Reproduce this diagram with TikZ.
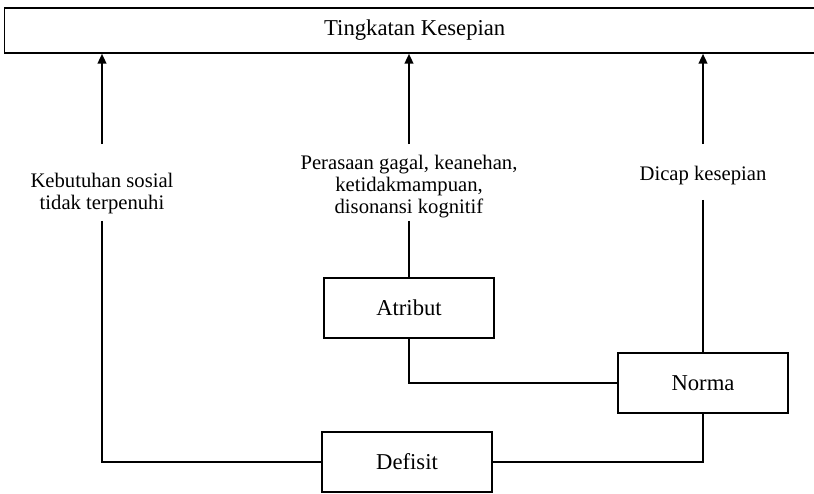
\documentclass[tikz,border=0pt]{standalone}
\usepackage{fontspec}
\setmainfont{Liberation Serif}
\usetikzlibrary{arrows.meta}

\tikzset{
	box/.style={draw, line width=1.1pt, minimum width=127.5pt, minimum height=45pt, inner sep=0pt, font=\fontsize{17}{18}\selectfont},
	lbl/.style={align=center, inner sep=0pt, font=\fontsize{15.5}{16.5}\selectfont},
	link/.style={line width=1.4pt},
	arr/.style={line width=1.6pt, -{Triangle[width=6.5pt,length=7.5pt]}}}
\tikzset{every picture/.style={line width=0.75pt}}

\begin{document}
\begin{tikzpicture}[x=0.75pt,y=0.75pt,yscale=-1,xscale=1]
	\path[use as bounding box] (0,0) rectangle (814,493);

	%Shape: Rectangle [top]
	\node[box, anchor=west, minimum width=615pt, minimum height=33.75pt] (level) at (4,30.5) {Tingkatan Kesepian};
	%Shape: Rectangle
	\node[box] (atribut) at (409,308) {Atribut};
	%Shape: Rectangle
	\node[box] (norma) at (703,383) {Norma};
	%Shape: Rectangle
	\node[box] (defisit) at (407,462) {Defisit};

	% Text Node
	\node[lbl] (kebutuhan) at (102,194) {Kebutuhan sosial\\tidak terpenuhi};
	% Text Node
	\node[lbl] (perasaan) at (409,187) {Perasaan gagal, keanehan,\\ketidakmampuan,\\disonansi kognitif};
	% Text Node
	\node[lbl] (dicap) at (703,176) {Dicap kesepian};

	%Arrows up to the top box
	\draw[arr] (kebutuhan.north) ++(0,-29) -- (kebutuhan.north |- level.south);
	\draw[arr] (perasaan.north) ++(0,-11) -- (perasaan.north |- level.south);
	\draw[arr] (dicap.north) ++(0,-22) -- (dicap.north |- level.south);

	%Lines between the boxes
	\draw[link] (kebutuhan.south) ++(0,6) |- (defisit.west);
	\draw[link] (perasaan.south) ++(0,2) -- (atribut.north);
	\draw[link] (atribut.south) |- (norma.west);
	\draw[link] (dicap.south) ++(0,14) -- (norma.north);
	\draw[link] (defisit.east) -| (norma.south);

\end{tikzpicture}
\end{document}
